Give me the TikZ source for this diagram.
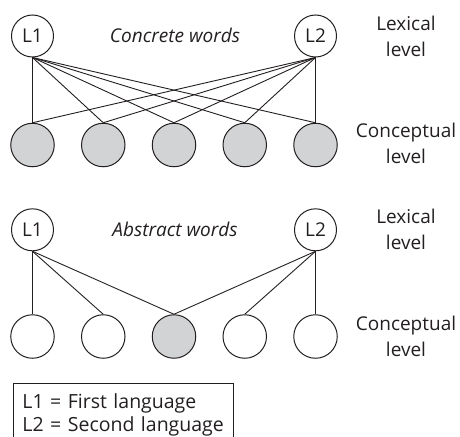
\documentclass[tikz,border=0pt]{standalone}
\usepackage{fontspec}
\setmainfont{Open Sans}
\definecolor{ink}{HTML}{231F20}
\definecolor{conc}{HTML}{D1D3D4}
\begin{document}
\begin{tikzpicture}[x=1pt,y=-1pt,
  every node/.style={font=\fontsize{19}{26.5}\selectfont, text=ink},
  lex/.style={circle, draw=ink, line width=1pt, minimum size=42pt, inner sep=0pt},
  con/.style={circle, draw=ink, line width=1pt, minimum size=43.5pt, inner sep=0pt},
  filled/.style={fill=conc},
  link/.style={draw=ink, line width=0.9pt},
  lvl/.style={align=center}]
\useasboundingbox (0,0) rectangle (460,436);
% concrete words
\node[lex] (a1) at (32.5,36) {L1};
\node[lex] (a2) at (315.5,36) {L2};
\node (at) at (175,35) {\itshape Concrete words};
\node[lvl] (alex) at (406,36.3) {Lexical\\level};
\node[lvl] (acon) at (406,143.5) {Conceptual\\level};
\foreach \i in {0,...,4}{
  \node[con,filled] (c\i) at ({32.5+70.75*\i},145) {};
}
\foreach \i in {0,...,4}{
  \draw[link] (a1.south) -- (c\i.north);
  \draw[link] (a2.south) -- (c\i.north);
}
% abstract words
\node[lex] (b1) at (32.5,229.8) {L1};
\node[lex] (b2) at (315.5,229.8) {L2};
\node (bt) at (175,229) {\itshape Abstract words};
\node[lvl] (blex) at (406,229.5) {Lexical\\level};
\node[lvl] (bcon) at (406,336.5) {Conceptual\\level};
\foreach \i in {0,1,3,4}{
  \node[con] (d\i) at ({32.5+70.75*\i},336.5) {};
}
\node[con,filled] (d2) at ({32.5+70.75*2},336.5) {};
\foreach \i in {0,1,2}{ \draw[link] (b1.south) -- (d\i.north); }
\foreach \i in {2,3,4}{ \draw[link] (b2.south) -- (d\i.north); }
% legend
\node[draw=ink, line width=0.9pt, anchor=north west, align=left,
      font=\fontsize{19.5}{23.5}\selectfont,
      text width=202pt, inner xsep=9pt, inner ysep=9.8pt] (legend) at (13,383)
  {L1 = First language\\L2 = Second language};
\end{tikzpicture}
\end{document}
